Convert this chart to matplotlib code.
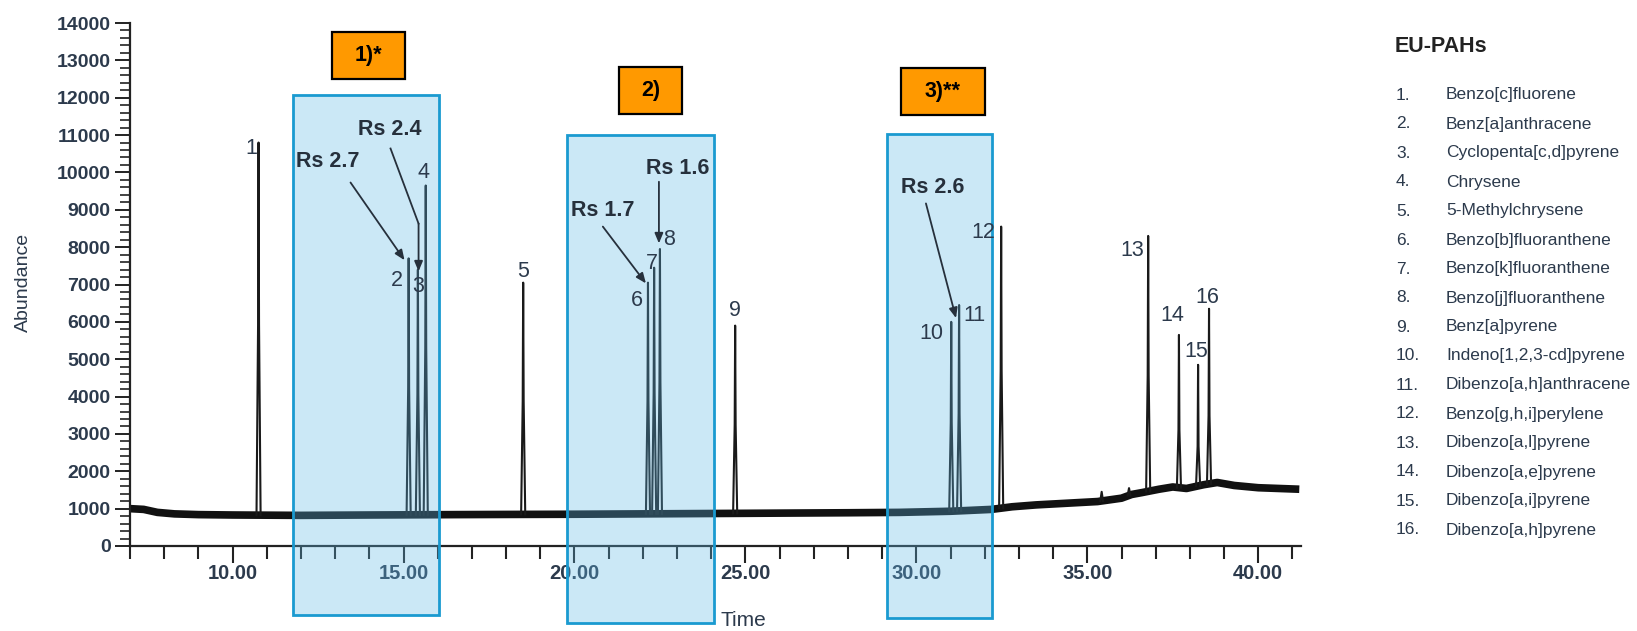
import matplotlib
matplotlib.use("Agg")
import matplotlib.pyplot as plt
from matplotlib.patches import Rectangle
from matplotlib.ticker import MultipleLocator, FormatStrFormatter
import numpy as np

# ---------------- data ----------------
peak_ids = [str(i) for i in range(1, 17)]
peak_times = [10.76, 15.15, 15.42, 15.65, 18.50, 22.15, 22.33, 22.50, 24.70,
              31.02, 31.25, 32.48, 36.78, 37.68, 38.24, 38.56]
peak_heights = [10800, 7700, 7400, 9650, 7050, 7050, 7450, 7950, 5900,
                6000, 6450, 8550, 8300, 5650, 4850, 6350]
# baseline (time, abundance)
base_times = [7.0, 7.4, 7.8, 8.3, 9.0, 10.0, 12.0, 14.0, 16.5, 18.0, 20.0, 22.0,
              24.0, 26.0, 28.0, 29.5, 31.0, 32.2, 32.8, 33.5, 34.5, 35.3,
              36.0, 36.3, 36.6, 37.1, 37.5, 37.9, 38.4, 38.8, 39.3, 40.0,
              40.6, 41.2]
base_values = [1000, 980, 900, 860, 840, 830, 820, 830, 840, 845, 850, 860,
               870, 880, 890, 900, 930, 980, 1050, 1100, 1150, 1190,
               1280, 1380, 1430, 1520, 1580, 1540, 1640, 1700, 1620, 1560,
               1540, 1520]
# small spikes on the rising baseline (time, abundance)
spike_times = [35.42, 36.22]
spike_values = [1450, 1550]

legend_title = "EU-PAHs"
compound_names = [
    "Benzo[c]fluorene", "Benz[a]anthracene", "Cyclopenta[c,d]pyrene",
    "Chrysene", "5-Methylchrysene", "Benzo[b]fluoranthene",
    "Benzo[k]fluoranthene", "Benzo[j]fluoranthene", "Benz[a]pyrene",
    "Indeno[1,2,3-cd]pyrene", "Dibenzo[a,h]anthracene", "Benzo[g,h,i]perylene",
    "Dibenzo[a,l]pyrene", "Dibenzo[a,e]pyrene", "Dibenzo[a,i]pyrene",
    "Dibenzo[a,h]pyrene",
]
region_labels = ["1)*", "2)", "3)**"]
region_spans = [(11.78, 16.05), (19.77, 24.07), (29.15, 32.2)]
rs_labels = ["Rs 2.7", "Rs 2.4", "Rs 1.7", "Rs 1.6", "Rs 2.6"]

# ---------------- style ----------------
FONT = ["Liberation Sans", "DejaVu Sans"]
plt.rcParams["font.family"] = FONT
TXT = "#2c3a4c"

W, H = 1637, 631
fig = plt.figure(figsize=(W / 100, H / 100), dpi=100)
x0_px, x1_px = 130, 1301
y0_px, y1_px = 546, 23
ax = fig.add_axes([x0_px / W, 1 - y0_px / H, (x1_px - x0_px) / W, (y0_px - y1_px) / H])
ax.set_xlim(7.0, 41.25)
ax.set_ylim(0, 14000)

# ---------------- trace ----------------
bt = np.array(base_times)
bv = np.array(base_values)
ax.plot(bt, bv, color="#111111", lw=5.5, solid_capstyle="butt", zorder=2)
half_w = 0.06
for t, h in zip(peak_times, peak_heights):
    b = np.interp(t, bt, bv)
    ax.plot([t - half_w, t - 0.014, t, t + 0.014, t + half_w],
            [b, h * 0.55, h, h * 0.55, b], color="#1a1a1a", lw=1.5, zorder=3)
for t, h in zip(spike_times, spike_values):
    b = np.interp(t, bt, bv)
    ax.plot([t - 0.04, t, t + 0.04], [b, h, b], color="#1a1a1a", lw=1.5, zorder=3)

# ---------------- shaded regions ----------------
ymin_box = [-1850, -2060, -1930]
ymax_box = [12080, 11000, 11030]
for (a, b), lo, hi in zip(region_spans, ymin_box, ymax_box):
    ax.add_patch(Rectangle((a, lo), b - a, hi - lo, facecolor=(0.375, 0.72, 0.9),
                           alpha=0.32, edgecolor="none", clip_on=False, zorder=4))
    ax.add_patch(Rectangle((a, lo), b - a, hi - lo, facecolor="none",
                           edgecolor="#1a9ad0", lw=2.0, clip_on=False, zorder=5))

# orange region tags (figure pixel boxes: left, top, right, bottom)
tag_boxes = [(332, 32, 405, 79), (619, 67, 682, 114), (901, 68, 985, 115)]
for lab, (l, t, r, b) in zip(region_labels, tag_boxes):
    fig.add_artist(Rectangle((l / W, 1 - b / H), (r - l) / W, (b - t) / H,
                             transform=fig.transFigure, facecolor="#ff9900",
                             edgecolor="black", lw=1.6, zorder=7))
    fig.text((l + r) / 2 / W, 1 - (t + b) / 2 / H, lab, ha="center", va="center",
             fontsize=15.5, fontweight="bold", color="black", zorder=8)

# ---------------- peak labels ----------------
label_pos = [(10.56, 10650), (14.82, 7100), (15.44, 6950), (15.57, 10000),
             (18.49, 7350), (21.82, 6560), (22.27, 7550), (22.78, 8200),
             (24.69, 6300), (30.43, 5700), (31.70, 6180), (31.95, 8400),
             (36.30, 7920), (37.48, 6180), (38.19, 5200), (38.52, 6650)]
for lab, (x, y) in zip(peak_ids, label_pos):
    ax.text(x, y, lab, ha="center", va="center", fontsize=15.5, color=TXT, zorder=6)

# ---------------- Rs annotations ----------------
rs_text_pos = [(12.78, 10300), (14.6, 11150), (20.83, 8980), (23.02, 10100), (30.49, 9600)]
rs_arrows = [
    [(13.45, 9730), (15.03, 7650)],
    [(14.62, 10640), (15.44, 8630), (15.44, 7350)],
    [(20.83, 8550), (22.09, 7030)],
    [(22.47, 9750), (22.47, 8100)],
    [(30.28, 9170), (31.16, 6100)],
]
for lab, (x, y) in zip(rs_labels, rs_text_pos):
    ax.text(x, y, lab, ha="center", va="center", fontsize=15.5, fontweight="bold",
            color="#26303c", zorder=7)
for pts in rs_arrows:
    for p, q in zip(pts[:-2], pts[1:-1]):
        ax.plot([p[0], q[0]], [p[1], q[1]], color="#26303c", lw=1.3, zorder=7)
    ax.annotate("", xy=pts[-1], xytext=pts[-2], zorder=7,
                arrowprops=dict(arrowstyle="-|>,head_length=0.6,head_width=0.25",
                                color="#26303c", lw=1.3, shrinkA=0, shrinkB=0))

# ---------------- axes styling ----------------
for s in ("top", "right"):
    ax.spines[s].set_visible(False)
for s in ("left", "bottom"):
    ax.spines[s].set_linewidth(1.6)
    ax.spines[s].set_color("#222222")
ax.xaxis.set_major_locator(MultipleLocator(5))
ax.xaxis.set_minor_locator(MultipleLocator(1))
ax.xaxis.set_major_formatter(FormatStrFormatter("%.2f"))
ax.yaxis.set_major_locator(MultipleLocator(1000))
ax.yaxis.set_minor_locator(MultipleLocator(200))
ax.tick_params(axis="x", which="major", length=12, width=1.5, color="#222222",
               labelsize=14.5, labelcolor=TXT, pad=1)
ax.tick_params(axis="x", which="minor", length=9, width=1.5, color="#222222")
ax.tick_params(axis="y", which="major", length=11, width=1.4, color="#222222",
               labelsize=14, labelcolor=TXT, pad=3)
ax.tick_params(axis="y", which="minor", length=7, width=1.2, color="#222222")
for lab in ax.get_xticklabels() + ax.get_yticklabels():
    lab.set_fontweight("bold")
ax.set_facecolor("none")

fig.text(23 / W, 1 - 282 / H, "Abundance", rotation=90, ha="center", va="center",
         fontsize=14, color=TXT)
fig.text(743 / W, 1 - 620 / H, "Time", ha="center", va="center", fontsize=15, color=TXT)

# ---------------- compound list ----------------
fig.text(1395 / W, 1 - 47 / H, legend_title, ha="left", va="center", fontsize=15.5,
         fontweight="bold", color="#222222")
row0, dy = 95, 29.0
for i, name in enumerate(compound_names):
    y = 1 - (row0 + i * dy) / H
    fig.text(1396 / W, y, f"{i + 1}.", ha="left", va="center", fontsize=12.5, color=TXT)
    fig.text(1446 / W, y, name, ha="left", va="center", fontsize=12.5, color=TXT)

fig.savefig("out.png", dpi=100)
